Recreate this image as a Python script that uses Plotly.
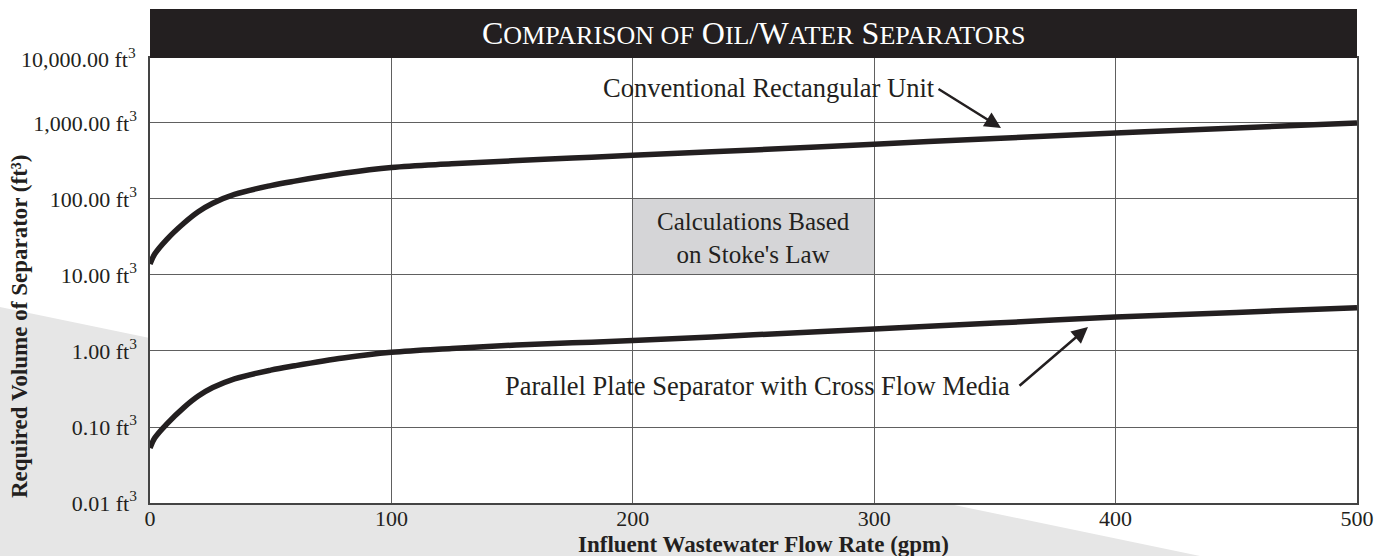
import plotly.graph_objects as go

# ---------------- data ----------------
flow_rate = [0, 2, 7, 14, 20, 26, 35, 50, 60, 80, 100, 125, 150, 175, 200, 250, 300, 350, 400, 450, 500]
conventional_unit = [14, 19, 29.5, 48, 68, 88, 115, 150, 172, 218, 260, 290, 318, 345, 375, 442, 527, 624,
                     740, 861, 1000]
parallel_plate = [0.053, 0.072, 0.11, 0.18, 0.255, 0.33, 0.43, 0.56, 0.64, 0.81, 0.96, 1.08, 1.19, 1.28,
                  1.37, 1.63, 1.95, 2.33, 2.80, 3.22, 3.70]

x_tick_values = [0, 100, 200, 300, 400, 500]
y_tick_values = [0.01, 0.1, 1, 10, 100, 1000]
y_tick_labels = ["0.01 ft<sup>3</sup>", "0.10 ft<sup>3</sup>", "1.00 ft<sup>3</sup>", "10.00 ft<sup>3</sup>",
                 "100.00 ft<sup>3</sup>", "1,000.00 ft<sup>3</sup>"]
y_top_label = "10,000.00 ft<sup>3</sup>"   # label printed at the top edge of the chart

stokes_box_x = [200, 300]
stokes_box_y = [10, 100]

# ---------------- layout helpers ----------------
W, H = 1385, 556
ML, MR, MT, MB = 150, 28, 58, 53
PW, PH = W - ML - MR, H - MT - MB
Y_RANGE = [-2, 3.855]   # the original's top decade is drawn compressed


def px(xp):
    return (xp - ML) / PW


def py(yp):
    return (H - MB - yp) / PH


FONT = "Liberation Serif, Times New Roman, serif"
INK = "#231f20"
NOTE = 26.5

fig = go.Figure()

fig.add_trace(go.Scatter(x=flow_rate, y=conventional_unit, mode="lines",
                         line=dict(color=INK, width=5.5, shape="spline", smoothing=1.0),
                         hoverinfo="skip", showlegend=False))
fig.add_trace(go.Scatter(x=flow_rate, y=parallel_plate, mode="lines",
                         line=dict(color=INK, width=5.5, shape="spline", smoothing=1.0),
                         hoverinfo="skip", showlegend=False))

shapes = [
    # light grey diagonal background
    dict(type="path", xref="paper", yref="paper", layer="below",
         path=f"M {px(0)},{py(307)} L {px(1200)},{py(556)} L {px(0)},{py(556)} Z",
         fillcolor="#e6e6e6", line=dict(width=0)),
    # white plot area
    dict(type="rect", xref="paper", yref="paper", layer="below",
         x0=0, x1=1, y0=0, y1=1, fillcolor="white", line=dict(width=0)),
    # Stoke's law box
    dict(type="rect", xref="x", yref="y", layer="below",
         x0=stokes_box_x[0], x1=stokes_box_x[1], y0=stokes_box_y[0], y1=stokes_box_y[1],
         fillcolor="#d5d5d7", line=dict(width=0)),
    # title bar
    dict(type="rect", xref="paper", yref="paper", layer="above",
         x0=0, x1=1, y0=1, y1=py(9), fillcolor=INK, line=dict(width=0)),
]

S = 'style="font-size:26px"'
title_html = (f'C<span {S}>OMPARISON OF</span> O<span {S}>IL</span>/W<span {S}>ATER</span> '
              f'S<span {S}>EPARATORS</span>')

box_cx = sum(stokes_box_x) / 2

annotations = [
    dict(text=title_html, xref="paper", yref="paper", x=0.5, y=py(33), xanchor="center", yanchor="middle",
         showarrow=False, font=dict(family=FONT, size=32, color="white")),
    dict(text="Calculations Based<br>on Stoke's Law", xref="x", yref="paper", x=box_cx, y=py(238),
         xanchor="center", yanchor="middle", showarrow=False,
         font=dict(family=FONT, size=25, color=INK)),
    dict(text="Conventional Rectangular Unit", xref="paper", yref="paper", x=px(769), y=py(88),
         xanchor="center", yanchor="middle", showarrow=False,
         font=dict(family=FONT, size=NOTE, color=INK)),
    dict(text="Parallel Plate Separator with Cross Flow Media", xref="paper", yref="paper",
         x=px(757), y=py(386), xanchor="center", yanchor="middle", showarrow=False,
         font=dict(family=FONT, size=NOTE, color=INK)),
    # arrows
    dict(text="", xref="paper", yref="paper", x=px(1001), y=py(128), ax=-64, ay=-40,
         showarrow=True, arrowhead=2, arrowsize=1.3, arrowwidth=2.5, arrowcolor=INK),
    dict(text="", xref="paper", yref="paper", x=px(1088), y=py(327), ax=-70, ay=60,
         showarrow=True, arrowhead=2, arrowsize=1.3, arrowwidth=2.5, arrowcolor=INK),
    # top y label
    dict(text=y_top_label, xref="paper", yref="paper", x=px(138), y=1, xanchor="right", yanchor="middle",
         showarrow=False, font=dict(family=FONT, size=22, color=INK)),
    # axis titles
    dict(text="<b>Required Volume of Separator (ft³)</b>", xref="paper", yref="paper",
         x=px(19), y=py(327), xanchor="center", yanchor="middle", textangle=-90, showarrow=False,
         font=dict(family=FONT, size=23, color=INK)),
    dict(text="<b>Influent Wastewater Flow Rate (gpm)</b>", xref="paper", yref="paper",
         x=px(763), y=py(544), xanchor="center", yanchor="middle", showarrow=False,
         font=dict(family=FONT, size=23, color=INK)),
]

fig.update_layout(
    width=W, height=H,
    margin=dict(l=ML, r=MR, t=MT, b=MB, pad=0),
    paper_bgcolor="white", plot_bgcolor="white",
    shapes=shapes, annotations=annotations,
    font=dict(family=FONT, color=INK),
    showlegend=False,
)

fig.update_xaxes(range=[0, 500], tickvals=x_tick_values, ticks="", showgrid=True,
                 gridcolor="#606060", gridwidth=1, showline=True, linecolor="#444444", linewidth=1.5,
                 mirror=True, zeroline=False, tickfont=dict(family=FONT, size=22, color=INK),
                 ticklabelstandoff=-5, automargin=False)
fig.update_yaxes(type="log", range=Y_RANGE, tickvals=y_tick_values, ticktext=y_tick_labels, ticks="",
                 showgrid=True, gridcolor="#606060", gridwidth=1, showline=True, linecolor="#444444",
                 linewidth=1.5, mirror=True, zeroline=False,
                 tickfont=dict(family=FONT, size=22, color=INK), ticklabelstandoff=7, automargin=False)

fig.write_html("out.html", config={"displayModeBar": False},
               post_script="document.body.style.margin='0';")
